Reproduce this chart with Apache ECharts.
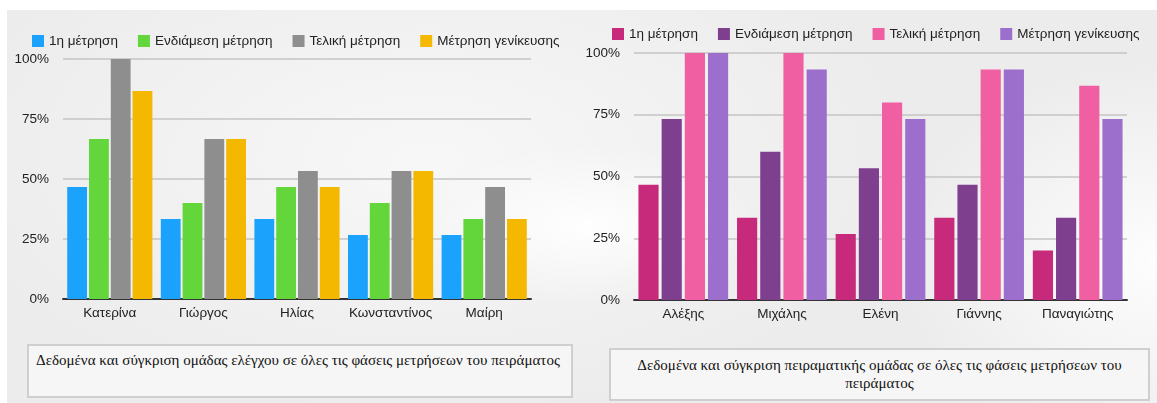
<!DOCTYPE html>
<html>
<head>
<meta charset="utf-8">
<script src="https://cdn.jsdelivr.net/npm/echarts@6/dist/echarts.min.js"></script>
<style>
  html, body { margin: 0; padding: 0; background: #fff; }
  #page {
    position: absolute; left: 7px; top: 10px; width: 1150px; height: 393px;
    background:
      radial-gradient(ellipse 170px 80px at 580px 215px, rgba(255,255,255,0.95), rgba(255,255,255,0) 100%),
      radial-gradient(ellipse 260px 200px at 1150px 250px, rgba(255,255,255,0.9), rgba(255,255,255,0) 100%),
      radial-gradient(ellipse 500px 260px at 420px 150px, rgba(255,255,255,0.6), rgba(255,255,255,0) 100%),
      #ececec;
  }
  .chart { position: absolute; top: 0; height: 330px; }
  .caption {
    position: absolute; box-sizing: border-box;
    border: 2px solid #cfcfcf; background: #f6f6f6;
    font-family: "Liberation Serif", "DejaVu Serif", serif; font-size: 15px; color: #111;
    line-height: 18px;
  }
</style>
</head>
<body>
<div id="page"></div>
<div id="left" class="chart" style="left:0;width:580px;"></div>
<div id="right" class="chart" style="left:580px;width:577px;"></div>
<div class="caption" style="left:27px;top:344px;width:546px;height:54px;padding:5px 0 0 7px;">Δεδομένα και σύγκριση ομάδας ελέγχου σε όλες τις φάσεις μετρήσεων του πειράματος</div>
<div class="caption" style="left:609px;top:348px;width:541px;height:53px;padding:6px 20px 0 20px;text-align:center;">Δεδομένα και σύγκριση πειραματικής ομάδας σε όλες τις φάσεις μετρήσεων του πειράματος</div>
<script>
var seriesNames = ['1η μέτρηση', 'Ενδιάμεση μέτρηση', 'Τελική μέτρηση', 'Μέτρηση γενίκευσης'];

// ομάδα ελέγχου
var controlNames = ['Κατερίνα', 'Γιώργος', 'Ηλίας', 'Κωνσταντίνος', 'Μαίρη'];
var controlFirst = [46.7, 33.3, 33.3, 26.7, 26.7];
var controlMid = [66.7, 40, 46.7, 40, 33.3];
var controlFinal = [100, 66.7, 53.3, 53.3, 46.7];
var controlGen = [86.7, 66.7, 46.7, 53.3, 33.3];
var controlColors = ['#1aa2fd', '#62d63a', '#8e8e8e', '#f5b800'];

// πειραματική ομάδα
var expNames = ['Αλέξης', 'Μιχάλης', 'Ελένη', 'Γιάννης', 'Παναγιώτης'];
var expFirst = [46.7, 33.3, 26.7, 33.3, 20];
var expMid = [73.3, 60, 53.3, 46.7, 33.3];
var expFinal = [100, 100, 80, 93.3, 86.7];
var expGen = [100, 93.3, 73.3, 93.3, 73.3];
var expColors = ['#c72a7b', '#7e3f8f', '#ef5fa2', '#9c6fcc'];

var yTicks = [0, 25, 50, 75, 100];

function makeChart(el, cats, values, colors, grid, legendPos, gap) {
    var chart = echarts.init(document.getElementById(el));
    var series = [];
    for (var i = 0; i < values.length; i++) {
        series.push({
            name: seriesNames[i],
            type: 'bar',
            data: values[i],
            barGap: gap,
            barCategoryGap: '9%',
            itemStyle: { color: colors[i] },
            animation: false
        });
    }
    chart.setOption({
        textStyle: { fontFamily: 'Liberation Sans, Arial, sans-serif' },
        color: colors,
        legend: {
            left: legendPos[0],
            top: legendPos[1],
            itemWidth: 12,
            itemHeight: 12,
            itemGap: 20,
            icon: 'rect',
            textStyle: { fontSize: 13.5, color: '#222' },
            data: seriesNames
        },
        grid: grid,
        xAxis: {
            type: 'category',
            data: cats,
            axisLine: { lineStyle: { color: '#333', width: 2 } },
            axisTick: { show: false },
            axisLabel: { interval: 0, fontSize: 13.5, color: '#222', margin: 7 }
        },
        yAxis: {
            type: 'value',
            min: yTicks[0],
            max: yTicks[yTicks.length - 1],
            interval: 25,
            axisLabel: { formatter: '{value}%', fontSize: 13.5, color: '#222', margin: 14 },
            splitLine: { lineStyle: { color: '#c4c4c4', width: 1.5 } },
            axisLine: { show: false },
            axisTick: { show: false }
        },
        series: series
    });
}

makeChart('left', controlNames, [controlFirst, controlMid, controlFinal, controlGen], controlColors,
    { left: 63, right: 49, top: 59, bottom: 31 }, [27, 29], '10%');
makeChart('right', expNames, [expFirst, expMid, expFinal, expGen], expColors,
    { left: 54, right: 30, top: 53, bottom: 30 }, [27, 22], '15%');
</script>
</body>
</html>
